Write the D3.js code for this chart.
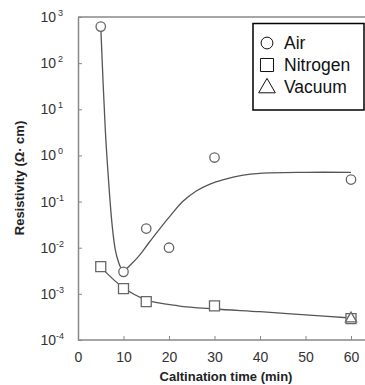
<!DOCTYPE html>
<html>
<head>
<meta charset="utf-8">
<script src="https://cdn.jsdelivr.net/npm/d3@7"></script>
<style>
  body { margin: 0; background: #fff; }
  svg { display: block; font-family: Arial, "Liberation Sans", sans-serif; }
</style>
</head>
<body>
<script>
// measured points
var airTime = [5, 10, 15, 20, 30, 60];
var airRes = [620, 0.003, 0.026, 0.01, 0.9, 0.3];
var n2Time = [5, 10, 15, 30, 60];
var n2Res = [0.0039, 0.0013, 0.00068, 0.00055, 0.00029];
var vacTime = [60];
var vacRes = [0.00029];

// fitted curves
var airFitTime = [5, 6, 6.7, 7.5, 8.2, 8.9, 9.5, 10.2, 11.5, 13.5, 15.5, 18, 20.5, 23, 26, 29, 32, 36, 40, 50, 60];
var airFitRes = [620, 3.6, 0.3, 0.031, 0.009, 0.0049, 0.0036, 0.0033, 0.0042, 0.0068, 0.0125, 0.026, 0.052, 0.1, 0.17, 0.24, 0.3, 0.37, 0.41, 0.43, 0.43];
var n2FitTime = [5, 10, 15, 22, 30, 40, 50, 60];
var n2FitRes = [0.0038, 0.00135, 0.00074, 0.00055, 0.00047, 0.00041, 0.00035, 0.0003];

var xTicks = [0, 10, 20, 30, 40, 50, 60];
var yExp = [3, 2, 1, 0, -1, -2, -3, -4];
var legendNames = ["Air", "Nitrogen", "Vacuum"];

var W = 365, H = 385;
var svg = d3.select("body").append("svg").attr("width", W).attr("height", H);

var x = d3.scaleLinear().domain([0, 60]).range([78, 351]);
var y = d3.scaleLog().domain([1e-4, 1e3]).range([340, 17]);

var axisCol = "#888";
var markCol = "#666";

// frame (right side runs off the picture)
svg.append("line").attr("x1", 78).attr("x2", 370).attr("y1", 17).attr("y2", 17)
  .attr("stroke", axisCol).attr("stroke-width", 1.5);

var xAxis = svg.append("g").attr("transform", "translate(0,340)")
  .call(d3.axisBottom(x).tickValues(xTicks).tickSizeInner(-4).tickSizeOuter(0).tickPadding(12));
xAxis.select(".domain").attr("d", "M78,0H370").attr("stroke", axisCol).attr("stroke-width", 1.5);
xAxis.selectAll(".tick line").attr("stroke", axisCol);
xAxis.selectAll(".tick text").attr("font-size", 14).attr("fill", "#333");

var yAxis = svg.append("g").attr("transform", "translate(78,0)")
  .call(d3.axisLeft(y).tickValues(yExp.map(function (e) { return Math.pow(10, e); }))
    .tickSizeInner(-4).tickSizeOuter(0).tickFormat(""));
yAxis.select(".domain").attr("stroke", axisCol).attr("stroke-width", 1.5);
yAxis.selectAll(".tick line").attr("stroke", axisCol);

// y tick labels as 10^n
yExp.forEach(function (e) {
  svg.append("text").attr("x", 56).attr("y", y(Math.pow(10, e)) + 5)
    .attr("text-anchor", "end").attr("font-size", 14).attr("fill", "#333").text("10");
  svg.append("text").attr("x", e < 0 ? 56 : 58).attr("y", y(Math.pow(10, e)) - 1)
    .attr("font-size", 9).attr("fill", "#333").text(e);
});

// axis titles
svg.append("text").attr("x", 226).attr("y", 381).attr("text-anchor", "middle")
  .attr("font-size", 13).attr("font-weight", "bold").attr("fill", "#222")
  .text("Caltination time (min)");
svg.append("text").attr("transform", "translate(24,178) rotate(-90)").attr("text-anchor", "middle")
  .attr("font-size", 13).attr("font-weight", "bold").attr("fill", "#222")
  .text("Resistivity (Ω· cm)");

// fit curves
var line = d3.line().x(function (d) { return x(d[0]); }).y(function (d) { return y(d[1]); })
  .curve(d3.curveCatmullRom.alpha(0.5));
svg.append("path").datum(d3.zip(airFitTime, airFitRes)).attr("d", line)
  .attr("fill", "none").attr("stroke", "#555").attr("stroke-width", 1.3);
svg.append("path").datum(d3.zip(n2FitTime, n2FitRes)).attr("d", line)
  .attr("fill", "none").attr("stroke", "#555").attr("stroke-width", 1.3);

// markers
var sym = {
  circle: d3.symbol().type(d3.symbolCircle).size(70),
  square: d3.symbol().type(d3.symbolSquare).size(100),
  triangle: d3.symbol().type(d3.symbolTriangle).size(55)
};
function drawPts(xs, ys, s) {
  svg.append("g").selectAll("path").data(d3.zip(xs, ys)).enter().append("path")
    .attr("transform", function (d) { return "translate(" + x(d[0]) + "," + y(d[1]) + ")"; })
    .attr("d", sym[s]).attr("fill", "#fff").attr("stroke", markCol).attr("stroke-width", 1.3);
}
drawPts(airTime, airRes, "circle");
drawPts(n2Time, n2Res, "square");
drawPts(vacTime, vacRes, "triangle");

// legend
var lg = svg.append("g");
lg.append("rect").attr("x", 253).attr("y", 23.5).attr("width", 111).attr("height", 86.5)
  .attr("fill", "#fff").attr("stroke", "#000").attr("stroke-width", 1.5);
var legSym = [
  d3.symbol().type(d3.symbolCircle).size(110),
  d3.symbol().type(d3.symbolSquare).size(170),
  d3.symbol().type(d3.symbolTriangle).size(120)
];
legendNames.forEach(function (n, i) {
  var cy = 43 + i * 22;
  lg.append("path").attr("transform", "translate(267," + (cy + (i === 2 ? 1 : 0)) + ")")
    .attr("d", legSym[i]).attr("fill", "none").attr("stroke", "#111").attr("stroke-width", 1);
  lg.append("text").attr("x", 284).attr("y", cy + 6).attr("font-size", 17.5).attr("fill", "#111").text(n);
});
</script>
</body>
</html>
